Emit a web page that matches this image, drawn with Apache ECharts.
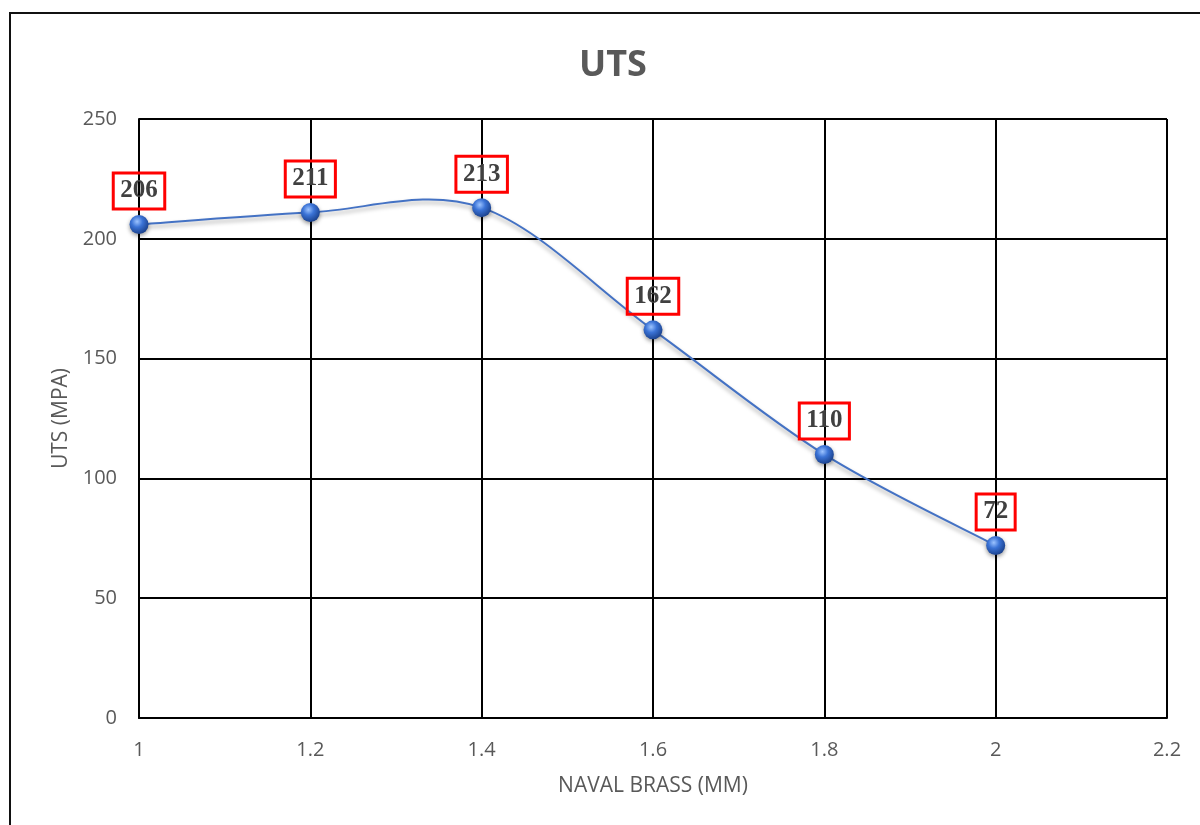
<!DOCTYPE html>
<html>
<head>
<meta charset="utf-8">
<title>UTS</title>
<script src="https://cdn.jsdelivr.net/npm/echarts@6/dist/echarts.min.js"></script>
<style>
  html, body { margin: 0; padding: 0; background: #fff; }
  #chart { width: 1200px; height: 825px; }
</style>
</head>
<body>
<div id="chart"></div>
<script>
// Naval brass thickness (mm) and ultimate tensile strength (MPa)
const thickness = [1, 1.2, 1.4, 1.6, 1.8, 2];
const uts = [206, 211, 213, 162, 110, 72];

const xTicks = { min: 1, max: 2.2, interval: 0.2 };
const yTicks = { min: 0, max: 250, interval: 50 };

const points = thickness.map((t, i) => [t, uts[i]]);

const chart = echarts.init(document.getElementById('chart'));

const axisText = { color: '#595959', fontFamily: 'Open Sans', fontSize: 20 };
const nameText = { color: '#595959', fontFamily: 'Open Sans', fontSize: 21 };

// Smooth curve through the data points (Catmull-Rom, converted to cubic Bezier)
function renderSmoothLine(params, api) {
  const pts = points.map(p => api.coord(p));
  let d = 'M' + pts[0][0] + ' ' + pts[0][1];
  for (let i = 0; i < pts.length - 1; i++) {
    const p0 = pts[i - 1] || pts[i];
    const p1 = pts[i];
    const p2 = pts[i + 1];
    const p3 = pts[i + 2] || pts[i + 1];
    const c1 = [p1[0] + (p2[0] - p0[0]) / 6, p1[1] + (p2[1] - p0[1]) / 6];
    const c2 = [p2[0] - (p3[0] - p1[0]) / 6, p2[1] - (p3[1] - p1[1]) / 6];
    d += ' C' + c1[0] + ' ' + c1[1] + ' ' + c2[0] + ' ' + c2[1] + ' ' + p2[0] + ' ' + p2[1];
  }
  return {
    type: 'path',
    shape: { pathData: d },
    style: {
      fill: 'none',
      stroke: '#4472C4',
      lineWidth: 2,
      shadowColor: 'rgba(0,0,0,0.35)',
      shadowBlur: 4,
      shadowOffsetY: 3
    }
  };
}

chart.setOption({
  backgroundColor: '#fff',
  animation: false,
  title: {
    text: 'UTS',
    left: 608,
    top: 43,
    textAlign: 'center',
    textStyle: { color: '#595959', fontFamily: 'Open Sans', fontWeight: 'bold', fontSize: 36 }
  },
  graphic: [{
    type: 'rect',
    shape: { x: 10, y: 13, width: 1220, height: 900 },
    style: { fill: 'none', stroke: '#111', lineWidth: 2 },
    silent: true
  }],
  grid: { left: 139, right: 33, top: 119, bottom: 107 },
  xAxis: {
    type: 'value',
    min: xTicks.min, max: xTicks.max, interval: xTicks.interval,
    name: 'NAVAL BRASS (MM)',
    nameLocation: 'middle',
    nameGap: 58,
    nameTextStyle: nameText,
    axisLine: { show: true, lineStyle: { color: '#000', width: 2 } },
    axisTick: { show: false },
    splitLine: { show: true, lineStyle: { color: '#000', width: 2 } },
    axisLabel: Object.assign({ margin: 22, formatter: v => String(+v.toFixed(1)) }, axisText)
  },
  yAxis: {
    type: 'value',
    min: yTicks.min, max: yTicks.max, interval: yTicks.interval,
    name: 'UTS (MPA)',
    nameLocation: 'middle',
    nameGap: 67,
    nameRotate: 90,
    nameTextStyle: nameText,
    axisLine: { show: true, lineStyle: { color: '#000', width: 2 } },
    axisTick: { show: false },
    splitLine: { show: true, lineStyle: { color: '#000', width: 2 } },
    axisLabel: Object.assign({ margin: 22 }, axisText)
  },
  series: [{
    type: 'custom',
    data: [0],
    renderItem: renderSmoothLine,
    silent: true,
    z: 2
  }, {
    type: 'line',
    data: points,
    z: 3,
    lineStyle: { width: 0, opacity: 0 },
    symbol: 'circle',
    symbolSize: 19,
    itemStyle: {
      color: {
        type: 'radial', x: 0.4, y: 0.35, r: 0.65,
        colorStops: [
          { offset: 0, color: '#9cc3ff' },
          { offset: 0.45, color: '#3b73d6' },
          { offset: 1, color: '#1c438f' }
        ]
      },
      shadowColor: 'rgba(0,0,0,0.4)', shadowBlur: 4, shadowOffsetY: 2
    },
    label: {
      show: true,
      position: 'top',
      distance: 6,
      formatter: p => String(p.value[1]),
      fontFamily: 'Liberation Serif',
      fontWeight: 'bold',
      fontSize: 25,
      lineHeight: 26,
      color: '#404040',
      borderColor: '#ff0000',
      borderWidth: 1.5,
      padding: [5, 7],
      backgroundColor: 'transparent'
    }
  }]
});
</script>
</body>
</html>
